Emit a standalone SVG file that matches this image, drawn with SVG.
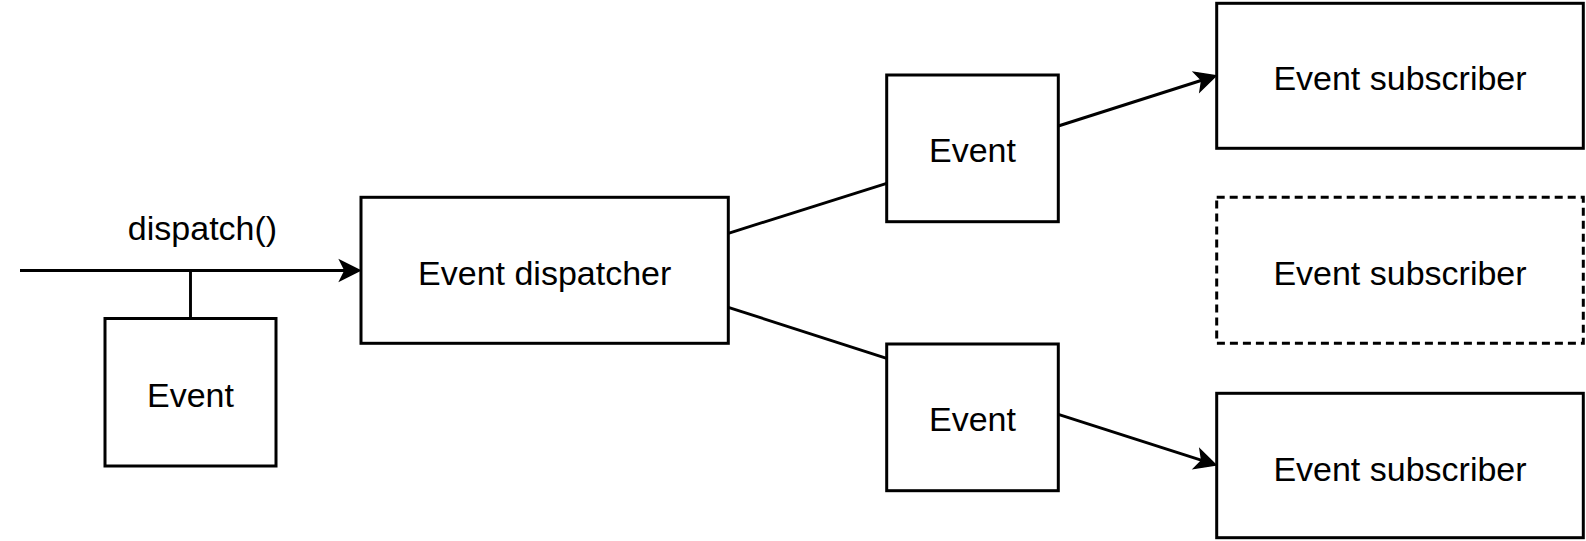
<svg xmlns="http://www.w3.org/2000/svg" width="1586" height="541" viewBox="0 0 1586 541">
  <style>
    .box { fill: #ffffff; stroke: #000000; stroke-width: 3; }
    .dashed { stroke-dasharray: 8 5; }
    .lbl { font-family: "Liberation Sans", Arial, sans-serif; font-size: 34px; fill: #000000; text-anchor: middle; }
    .edge { fill: none; stroke: #000000; stroke-width: 2.9; }
    .head { fill: #000000; stroke: #000000; stroke-width: 1.5; stroke-linejoin: miter; }
  </style>
  <rect width="1586" height="541" fill="#ffffff"/>

  <g id="connectors">
    <line class="edge" x1="20" y1="270.5" x2="346" y2="270.5"/>
    <path class="head" d="M360,270.5 L340,260.5 L345,270.5 L340,280.5 Z"/>
    <line class="edge" x1="190.5" y1="270.5" x2="190.5" y2="318.5"/>
    <line class="edge" x1="728.3" y1="233.3" x2="886.7" y2="183.3"/>
    <line class="edge" x1="728.3" y1="307.3" x2="886.7" y2="358.3"/>
    <line class="edge" x1="1058.3" y1="126" x2="1202.6" y2="80"/>
    <path class="head" d="M1216,75.7 L1193.9,72.25 L1201.7,80.26 L1199.98,91.31 Z"/>
    <line class="edge" x1="1058.3" y1="414.3" x2="1202.6" y2="460.7"/>
    <path class="head" d="M1216,465 L1200.02,449.36 L1201.72,460.41 L1193.9,468.4 Z"/>
  </g>

  <text class="lbl" x="202.5" y="239.5">dispatch()</text>

  <g id="event-source">
    <rect class="box" x="105" y="318.5" width="171" height="147.5"/>
    <text class="lbl" x="190.5" y="406.5">Event</text>
  </g>

  <g id="event-dispatcher">
    <rect class="box" x="361" y="197.3" width="367.3" height="146"/>
    <text class="lbl" x="544.7" y="284.5">Event dispatcher</text>
  </g>

  <g id="event-top">
    <rect class="box" x="886.7" y="75" width="171.6" height="146.7"/>
    <text class="lbl" x="972.5" y="161.7">Event</text>
  </g>

  <g id="event-bottom">
    <rect class="box" x="886.7" y="344" width="171.6" height="146.7"/>
    <text class="lbl" x="972.5" y="431">Event</text>
  </g>

  <g id="subscriber-top">
    <rect class="box" x="1216.7" y="3.3" width="366.6" height="145"/>
    <text class="lbl" x="1400" y="90">Event subscriber</text>
  </g>

  <g id="subscriber-middle">
    <rect class="box dashed" x="1216.7" y="197.3" width="366.6" height="146"/>
    <text class="lbl" x="1400" y="285">Event subscriber</text>
  </g>

  <g id="subscriber-bottom">
    <rect class="box" x="1216.7" y="393.3" width="366.6" height="144.4"/>
    <text class="lbl" x="1400" y="480.5">Event subscriber</text>
  </g>
</svg>
